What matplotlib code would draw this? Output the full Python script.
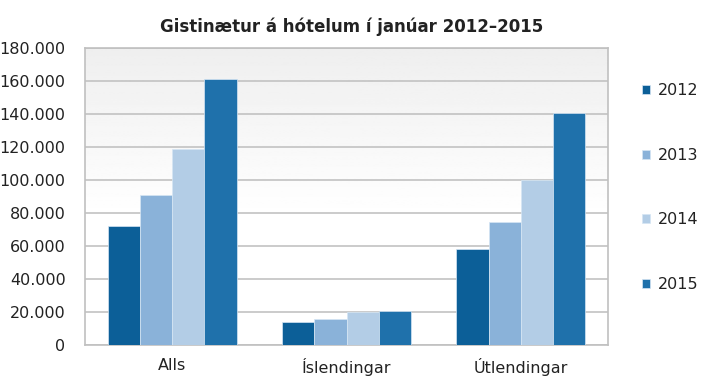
import numpy as np
import matplotlib.pyplot as plt

categories = ["Alls", "Íslendingar", "Útlendingar"]
years = ["2012", "2013", "2014", "2015"]
values = {
    "2012": [72000, 14100, 58200],
    "2013": [91200, 15900, 74700],
    "2014": [118800, 20000, 100000],
    "2015": [161200, 20400, 140800],
}
colors = ["#0c5f98", "#8ab2d9", "#b3cde6", "#1f71ab"]
yticks = np.arange(0, 180001, 20000)
ytick_labels = [f"{v:,}".replace(",", ".") for v in yticks]

fig = plt.figure(figsize=(7.13, 3.87), dpi=100)
ax = fig.add_axes([85 / 713, 1 - 345 / 387, 523 / 713, 297 / 387])

# gradient background: light gray at top, white at bottom
grad = np.concatenate([np.ones(110), np.linspace(1.0, 0.935, 146)]).reshape(-1, 1)
ax.imshow(grad, extent=[0, 1, 0, 1], transform=ax.transAxes, cmap="gray",
          vmin=0, vmax=1, aspect="auto", origin="lower", zorder=0)

x = np.arange(len(categories))
w = 0.185
for i, yr in enumerate(years):
    ax.bar(x + (i - 1.5) * w, values[yr], width=w, color=colors[i],
           edgecolor="#d6e6f4", linewidth=0.5, zorder=3, label=yr)

ax.set_xlim(-0.5, 2.5)
ax.set_ylim(0, 180000)
ax.set_yticks(yticks)
ax.set_yticklabels(ytick_labels)
ax.set_xticks(x)
ax.set_xticklabels(categories)
ax.grid(True, axis="y", color="#c2c2c2", linewidth=1.2, zorder=1)
ax.tick_params(length=0, labelsize=11.5, colors="#222222")
ax.tick_params(axis="y", pad=14)
ax.tick_params(axis="x", pad=9)
for s in ax.spines.values():
    s.set_color("#c0c0c0")
    s.set_linewidth(1.2)

fig.text(352 / 713, 1 - 27 / 387, "Gistinætur á hótelum í janúar 2012–2015",
         ha="center", va="center", fontsize=12, fontweight="bold", color="#222222")

leg = ax.legend(loc="center left", bbox_to_anchor=(1.037, 0.53), frameon=False,
                fontsize=11.5, handlelength=0.5, handleheight=0.5, handletextpad=0.5,
                labelspacing=3.1, labelcolor="#222222")

fig.savefig("out.png", dpi=100)
